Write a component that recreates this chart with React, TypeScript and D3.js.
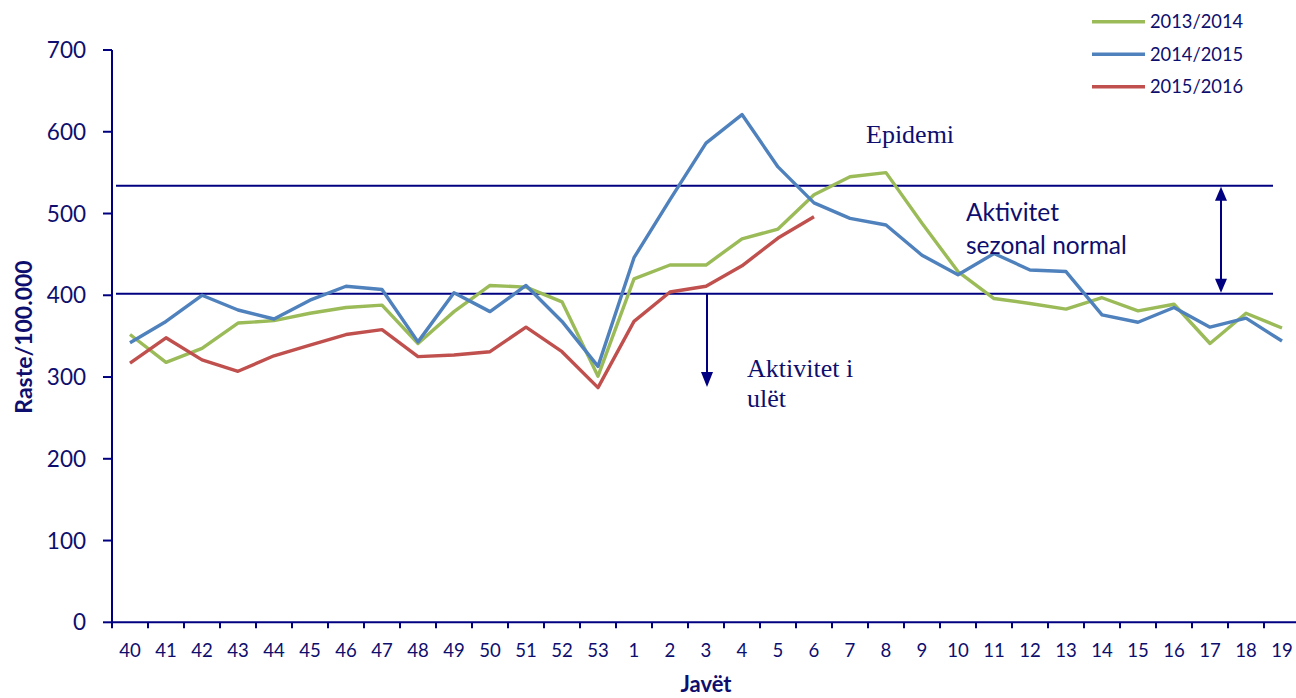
import * as d3 from 'd3';

// weeks of the season
const weeks = ["40","41","42","43","44","45","46","47","48","49","50","51","52","53","1","2","3","4","5","6","7","8","9","10","11","12","13","14","15","16","17","18","19"];

const s1314 = [352, 318, 335, 366, 369, 378, 385, 388, 341, 380, 412, 410, 392, 301, 420, 437, 437, 469, 481, 523, 545, 550, 488, 429, 396, 390, 383, 397, 381, 389, 341, 378, 360];
const s1415 = [342, 368, 400, 382, 371, 394, 411, 407, 343, 403, 380, 412, 368, 313, 446, 517, 586, 621, 557, 513, 494, 486, 449, 425, 451, 431, 429, 376, 367, 385, 361, 372, 344];
const s1516 = [317, 348, 321, 307, 326, 339, 352, 358, 325, 327, 331, 361, 331, 287, 368, 404, 411, 436, 470, 496];

const yTicks = [0, 100, 200, 300, 400, 500, 600, 700];
const upperLimit = 534; // epidemic threshold
const lowerLimit = 402; // low activity threshold

const series = [
  { name: "2013/2014", values: s1314, color: "#9BBB59" },
  { name: "2014/2015", values: s1415, color: "#4F81BD" },
  { name: "2015/2016", values: s1516, color: "#C0504D" },
];

const navy = "#000080";
const textCol = "#0E0E6E";
const sans = "Lato, 'Open Sans', sans-serif";
const serif = "'Liberation Serif', 'Times New Roman', serif";

export default function App() {
  const W = 1296, H = 698;
  const x = d3.scaleBand().domain(weeks).range([112, 1300]).padding(0);
  const y = d3.scaleLinear().domain([0, 700]).range([622.3, 50]);
  const cx = (w: string) => x(w)! + x.bandwidth() / 2;

  const line = d3.line<number>()
    .x((_, i) => cx(weeks[i]))
    .y(d => y(d));

  const yUp = y(upperLimit), yLow = y(lowerLimit);
  const arrowX = cx("3") + 1;
  const dblX = x("18")! - 7;

  return (
    <svg width={W} height={H} style={{ position: 'absolute', left: 0, top: 0, background: '#fff' }}>
      {/* threshold lines */}
      <line x1={116} x2={1273} y1={yUp} y2={yUp} stroke={navy} strokeWidth={2} />
      <line x1={116} x2={1273} y1={yLow} y2={yLow} stroke={navy} strokeWidth={2} />

      {/* series */}
      {series.map(s => (
        <path key={s.name} d={line(s.values)!} fill="none" stroke={s.color} strokeWidth={3.4} strokeLinejoin="round" />
      ))}

      {/* y axis */}
      <line x1={112} x2={112} y1={y(700)} y2={y(0)} stroke={navy} strokeWidth={2} />
      {yTicks.map(t => (
        <g key={t}>
          <line x1={103} x2={112} y1={y(t)} y2={y(t)} stroke={navy} strokeWidth={2} />
          <text x={86} y={y(t)} dy="0.36em" textAnchor="end" fontFamily={sans} fontSize={22.5} fill={textCol}>{t}</text>
        </g>
      ))}

      {/* x axis */}
      <line x1={112} x2={1300} y1={y(0)} y2={y(0)} stroke={navy} strokeWidth={2} />
      {weeks.map(w => (
        <g key={w}>
          <line x1={x(w)!} x2={x(w)!} y1={y(0)} y2={y(0) + 6} stroke={navy} strokeWidth={2} />
          <text x={cx(w)} y={657} textAnchor="middle" fontFamily={sans} fontSize={18.6} fill={textCol}>{w}</text>
        </g>
      ))}

      {/* axis titles */}
      <text x={706} y={692} textAnchor="middle" fontFamily={sans} fontWeight="bold" fontSize={22} fill={textCol}>Javët</text>
      <text transform={`translate(32,337) rotate(-90)`} textAnchor="middle" fontFamily={sans} fontWeight="bold" fontSize={23} fill={textCol}>Raste/100.000</text>

      {/* legend */}
      {series.map((s, i) => (
        <g key={s.name} transform={`translate(0,${21.7 + i * 32.5})`}>
          <line x1={1092} x2={1145} y1={0} y2={0} stroke={s.color} strokeWidth={3.4} />
          <text x={1150} y={0} dy="0.36em" fontFamily={sans} fontSize={18.3} fill={textCol}>{s.name}</text>
        </g>
      ))}

      {/* annotations */}
      <text x={866} y={143} fontFamily={serif} fontSize={26} fill={textCol}>Epidemi</text>
      <text x={966} y={221} fontFamily={sans} fontSize={24.5} fill={textCol}>Aktivitet</text>
      <text x={966} y={254} fontFamily={sans} fontSize={24.5} fill={textCol}>sezonal normal</text>
      <text x={747} y={377} fontFamily={serif} fontSize={26} fill={textCol}>Aktivitet i</text>
      <text x={747} y={407} fontFamily={serif} fontSize={26} fill={textCol}>ulët</text>

      {/* down arrow */}
      <line x1={arrowX} x2={arrowX} y1={yLow} y2={374} stroke={navy} strokeWidth={2} />
      <path d={`M${arrowX - 6},${372} L${arrowX + 6},${372} L${arrowX},${387} Z`} fill={navy} />

      {/* double arrow */}
      <line x1={dblX} x2={dblX} y1={yUp + 12} y2={yLow - 12} stroke={navy} strokeWidth={2} />
      <path d={`M${dblX},${yUp + 1} L${dblX - 6},${yUp + 15} L${dblX + 6},${yUp + 15} Z`} fill={navy} />
      <path d={`M${dblX},${yLow - 1} L${dblX - 6},${yLow - 15} L${dblX + 6},${yLow - 15} Z`} fill={navy} />
    </svg>
  );
}
